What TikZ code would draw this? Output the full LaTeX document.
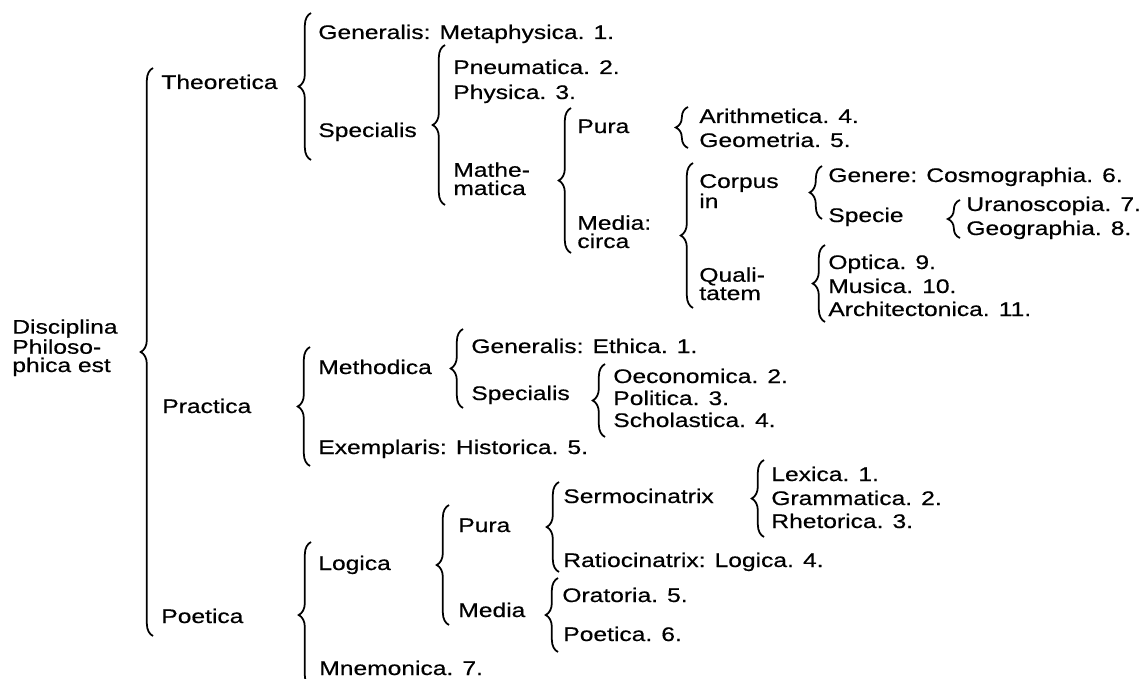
\documentclass[tikz,border=0pt]{standalone}
\usepackage{fontspec}
\setmainfont[FakeStretch=1.25, FakeBold=0.5]{Liberation Sans}
\usepackage{tikz}
\usetikzlibrary{decorations.pathreplacing,positioning}
\tikzstyle{term} = [anchor=base west, inner sep=0pt, align=left, font=\fontsize{11.2}{10.4}\selectfont]
\tikzstyle{brace} = [decorate, decoration={brace, amplitude=7pt}, line width=1pt]

\begin{document}
\begin{tikzpicture}[x=0.02cm, y=-0.02cm]
\useasboundingbox (0,0) rectangle (1139,679);

% Root (anchor is the baseline of the last line)
\node[term] (disc) at (12,372) {Disciplina\\Philoso-\\phica est};
\draw[brace] (153,636) -- (153,68);
\node[term] (theo) at (161,89) {Theoretica};
\node[term] (prac) at (162,413) {Practica};
\node[term] (poet) at (161,623) {Poetica};

% Theoretica
\draw[brace] (311,160) -- (311,13);
\node[term] (genmeta) at (318,39) {Generalis: Metaphysica. 1.};
\node[term] (specth) at (318,137) {Specialis};
\draw[brace] (445,205) -- (445,45);
\node[term] (pneu) at (453,74) {Pneumatica. 2.};
\node[term] (phys) at (453,99) {Physica. 3.};
\node[term] (math) at (453,195) {Mathe-\\matica};
\draw[brace] (571,253) -- (571,108);
\node[term] (puram) at (577,133) {Pura};
\node[term] (mediam) at (577,248) {Media:\\circa};
\draw[brace] (688,148) -- (688,107);
\node[term] (arith) at (699,123) {Arithmetica. 4.};
\node[term] (geom) at (699,147) {Geometria. 5.};
\draw[brace] (693,308) -- (693,163);
\node[term] (corpus) at (699,208) {Corpus\\in};
\node[term] (quali) at (699,300) {Quali-\\tatem};
\draw[brace] (822,219) -- (822,166);
\node[term] (genere) at (828,182) {Genere: Cosmographia. 6.};
\node[term] (specie) at (828,222) {Specie};
\draw[brace] (960,238) -- (960,200);
\node[term] (urano) at (966,211) {Uranoscopia. 7.};
\node[term] (geog) at (966,235) {Geographia. 8.};
\draw[brace] (825,322) -- (825,245);
\node[term] (optica) at (828,269) {Optica. 9.};
\node[term] (musica) at (828,293) {Musica. 10.};
\node[term] (archi) at (828,316) {Architectonica. 11.};

% Practica
\draw[brace] (310,466) -- (310,347);
\node[term] (meth) at (318,374) {Methodica};
\node[term] (exem) at (318,454) {Exemplaris: Historica. 5.};
\draw[brace] (463,408) -- (463,329);
\node[term] (genethica) at (471,353) {Generalis: Ethica. 1.};
\node[term] (specpr) at (471,400) {Specialis};
\draw[brace] (605,437) -- (605,364);
\node[term] (oecon) at (613,383) {Oeconomica. 2.};
\node[term] (polit) at (613,405) {Politica. 3.};
\node[term] (schol) at (613,427) {Scholastica. 4.};

% Poetica
\draw[brace] (311,688) -- (311,542);
\node[term] (logica) at (318,570) {Logica};
\node[term] (mnem) at (319,675) {Mnemonica. 7.};
\draw[brace] (449,625) -- (449,505);
\node[term] (purap) at (458,532) {Pura};
\node[term] (mediap) at (458,617) {Media};
\draw[brace] (559,572) -- (559,482);
\node[term] (sermo) at (563,503) {Sermocinatrix};
\node[term] (ratio) at (563,567) {Ratiocinatrix: Logica. 4.};
\draw[brace] (764,537) -- (764,460);
\node[term] (lexica) at (771,481) {Lexica. 1.};
\node[term] (gramm) at (771,505) {Grammatica. 2.};
\node[term] (rhet) at (771,528) {Rhetorica. 3.};
\draw[brace] (558,652) -- (558,578);
\node[term] (orat) at (562,602) {Oratoria. 5.};
\node[term] (poetica) at (563,641) {Poetica. 6.};
\end{tikzpicture}
\end{document}
